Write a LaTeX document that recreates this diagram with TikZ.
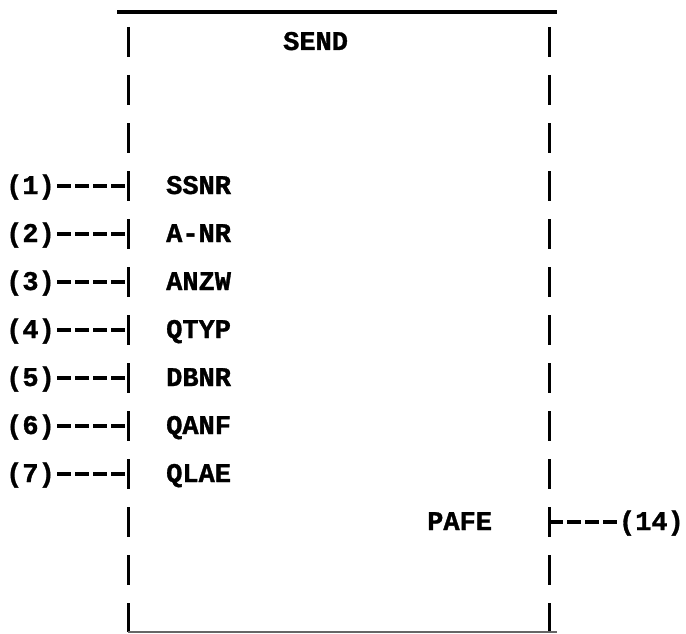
\documentclass[tikz,border=0pt]{standalone}
\usepackage{fontspec}
\newfontfamily\twfont[FakeBold=1.2]{Liberation Mono Bold}
\begin{document}
\begin{tikzpicture}[x=1pt,y=-1pt,
  tw/.style={font=\twfont\fontsize{27}{27}\selectfont, inner sep=0pt, text height=16pt, text depth=0pt},
  side/.style={line width=3pt, dash pattern=on 30pt off 18pt},
  typedash/.style={line width=3.2pt, dash pattern=on 14pt off 4pt, shorten <=2pt}]
\useasboundingbox (0,0) rectangle (686,634);
% box frame
\coordinate (topL) at (117,12);
\coordinate (topR) at (557,12);
\coordinate (tl) at (128,27);
\coordinate (bl) at (128,632);
\coordinate (tr) at (549,27);
\coordinate (br) at (549,632);
\coordinate (botR) at (557,632);
\draw[line width=4.5pt] (topL) -- (topR);
\draw[side] (tl) -- (bl);
\draw[side] (tr) -- (br);
\draw[line width=1.6pt, black!60] (bl) -- (botR);
% title
\node[tw, anchor=west] (send) at (283,42) {SEND};
% inputs
\foreach \i/\name [evaluate=\i as \yy using 42+48*(\i+2)] in {1/SSNR,2/A-NR,3/ANZW,4/QTYP,5/DBNR,6/QANF,7/QLAE}{
  \node[tw, anchor=west] (l\i) at (6,\yy) {(\i)};
  \node[tw, anchor=west] (f\i) at (166,\yy) {\name};
  \draw[typedash] (l\i.east) -- (l\i.east -| tl);
}
% output
\node[tw, anchor=west] (pafe) at (427,522) {PAFE};
\node[tw, anchor=east] (p14) at (684,522) {(14)};
\draw[typedash] (p14.west) -- (p14.west -| tr);
\end{tikzpicture}
\end{document}
